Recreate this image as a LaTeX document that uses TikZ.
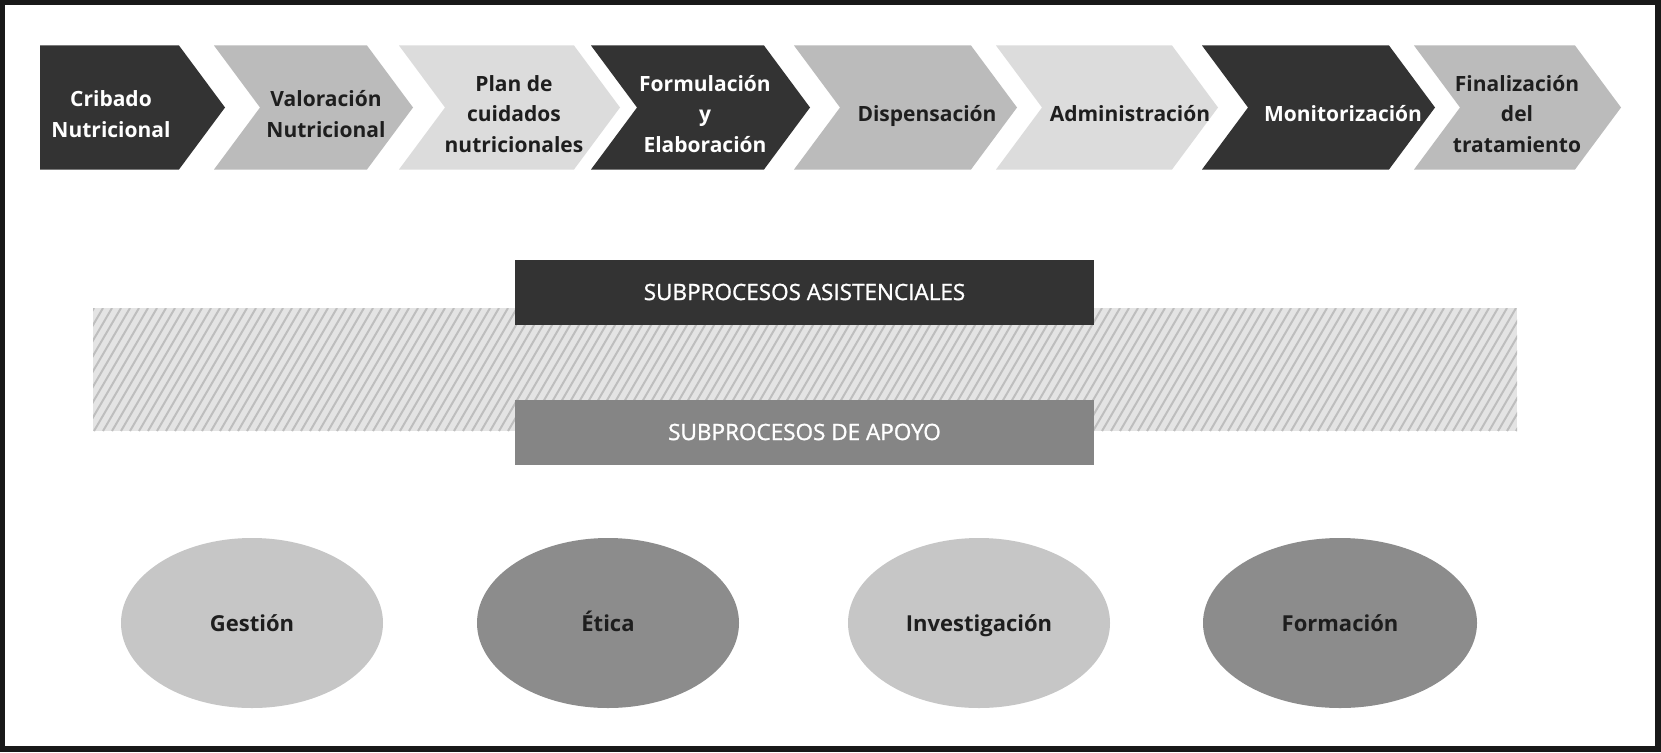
\documentclass[tikz,border=0pt]{standalone}
\usepackage{fontspec}
\setmainfont{Open Sans}
\newfontfamily\medfont{Open Sans}[FakeBold=1.2]
\usetikzlibrary{shapes.geometric}
\definecolor{dk}{HTML}{333333}
\definecolor{mid}{HTML}{BBBBBB}
\definecolor{lt}{HTML}{DCDCDC}
\definecolor{ellA}{HTML}{C6C6C6}
\definecolor{ellB}{HTML}{8C8C8C}
\definecolor{apoyo}{HTML}{858585}
\definecolor{bandbg}{HTML}{E4E4E4}
\definecolor{hatchc}{HTML}{BEBEBE}
\definecolor{txt}{HTML}{1E1E1E}
\newcommand\mychev[4]{%
  \fill[#3] (#1,45.5) -- ({#2-46},45.5) -- (#2,107.5) -- ({#2-46},169.5) -- (#1,169.5) -- ({#1+#4},107.5) -- cycle;}
\tikzset{
  lab/.style={align=center, inner sep=0pt, font=\fontsize{21}{30.7}\selectfont\bfseries, text=txt},
  labw/.style={lab, text=white},
  one/.style={text height=18pt, text depth=3pt},
  subbox/.style={rectangle, inner sep=0pt, minimum width=579pt, minimum height=65pt, text=white, font=\fontsize{22.5}{27}\medfont},
  oval/.style={ellipse, inner sep=0pt, minimum width=262pt, minimum height=170pt, text=txt, font=\fontsize{22}{26}\selectfont\bfseries, text height=19pt, text depth=2pt},
  hatch/.style={hatchc, line width=2pt}
}
\begin{document}
\begin{tikzpicture}[x=1pt,y=-1pt]
\useasboundingbox (0,0) rectangle (1661,752);
\fill[black!90] (0,0) rectangle (1661,752);
\fill[white] (5,5) rectangle (1655,746);
% chevrons
\mychev{40}{225}{dk}{0}
\mychev{214}{413}{mid}{46}
\mychev{399}{620}{lt}{46}
\mychev{591}{810}{dk}{46}
\mychev{794}{1017}{mid}{46}
\mychev{996}{1218}{lt}{46}
\mychev{1202}{1435}{dk}{46}
\mychev{1414}{1621}{mid}{46}
\node[labw] (c1) at (111,114) {Cribado\\Nutricional};
\node[lab] (c2) at (326,114) {Valoración\\Nutricional};
\node[lab] (c3) at (514,114) {Plan de\\cuidados\\nutricionales};
\node[labw] (c4) at (705,114) {Formulación\\y\\Elaboración};
\node[lab, one] (c5) at (927,114) {Dispensación};
\node[lab, one] (c6) at (1130,114) {Administración};
\node[labw, one] (c7) at (1343,114) {Monitorización};
\node[lab] (c8) at (1517,114) {Finalización\\del\\tratamiento};
% hatched band
\begin{scope}
\clip (93,308) rectangle (1517,431);
\fill[bandbg] (93,308) rectangle (1517,431);
\foreach \i in {0,...,170}{\draw[hatch] ({13+\i*9},431) -- ++(72,-123);}
\end{scope}
\node[subbox, fill=dk] (sa) at (804.5,292) {SUBPROCESOS ASISTENCIALES};
\node[subbox, fill=apoyo] (sap) at (804.5,432) {SUBPROCESOS DE APOYO};
% ellipses
\node[oval, fill=ellA] (e1) at (252,623) {Gestión};
\node[oval, fill=ellB] (e2) at (608,623) {Ética};
\node[oval, fill=ellA] (e3) at (979,623) {Investigación};
\node[oval, fill=ellB, minimum width=274pt] (e4) at (1340,623) {Formación};
\end{tikzpicture}
\end{document}
